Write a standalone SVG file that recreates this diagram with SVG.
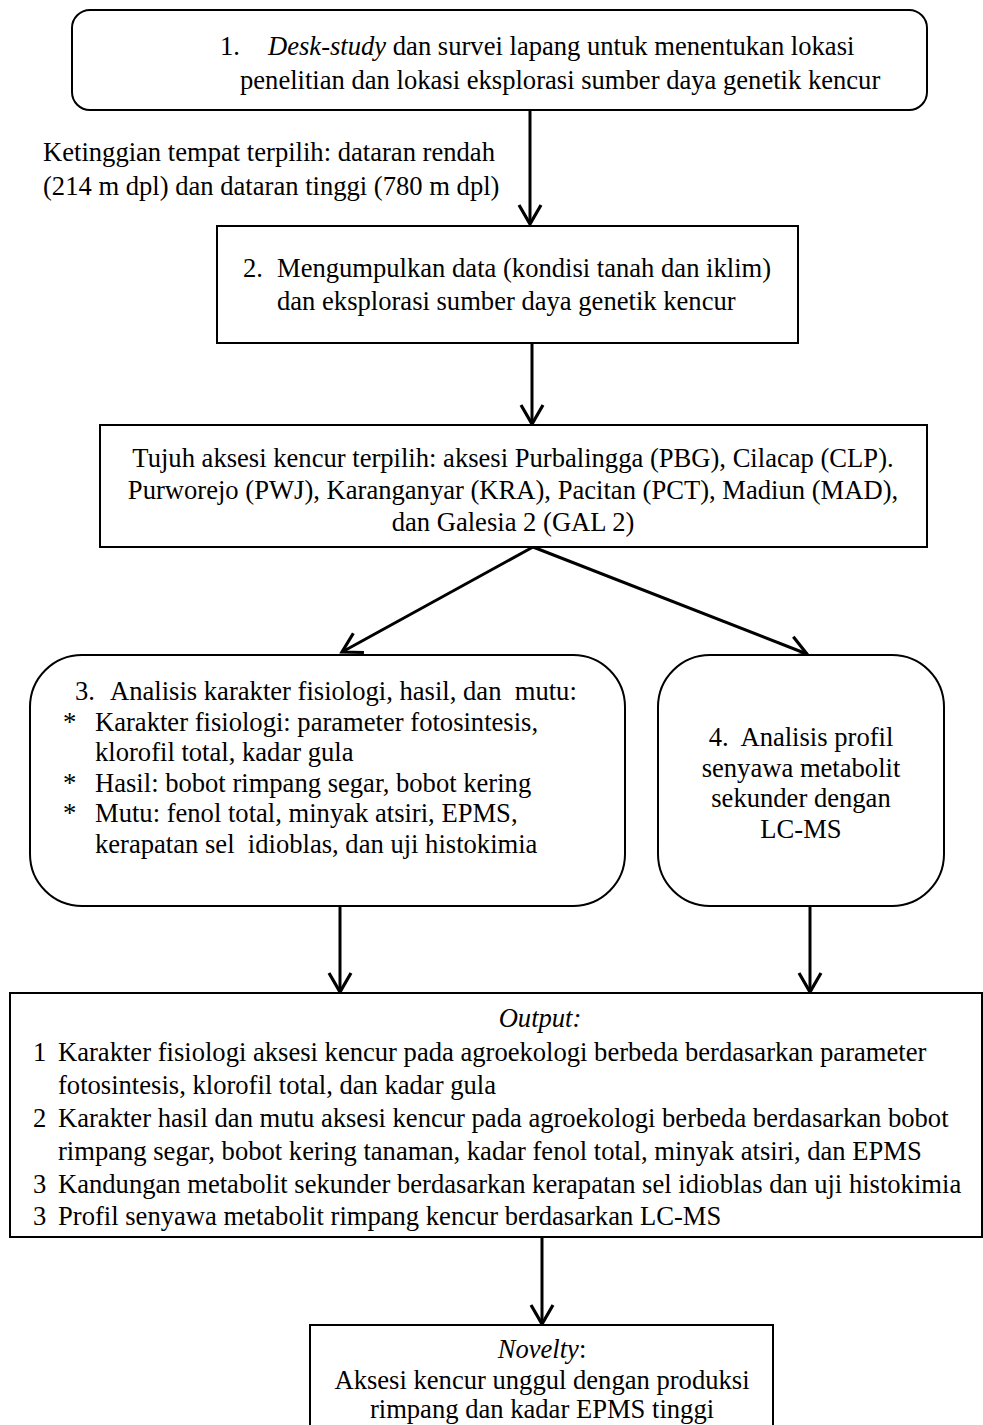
<svg xmlns="http://www.w3.org/2000/svg" width="983" height="1425" viewBox="0 0 983 1425">
<defs>
<marker id="ah" markerUnits="userSpaceOnUse" markerWidth="30" markerHeight="30" viewBox="-24 -15 30 30" refX="0" refY="0" orient="auto">
<path d="M-19,-11 L0,0 L-19,11" fill="none" stroke="#000" stroke-width="3.2" stroke-linejoin="miter"/>
</marker>
<style>
.box{fill:#fff;stroke:#000;stroke-width:2}
.t{font-family:"Liberation Serif","Times New Roman",serif;font-size:26.6px;fill:#000;white-space:pre}
.c{text-anchor:middle}
.i{font-style:italic}
.ln{stroke:#000;stroke-width:3;fill:none;marker-end:url(#ah)}
</style>
</defs>
<rect width="983" height="1425" fill="#fff"/>
<g id="connectors">
<line class="ln" x1="530" y1="110" x2="530" y2="224"/>
<line class="ln" x1="532" y1="343" x2="532" y2="424"/>
<line class="ln" x1="533" y1="547" x2="342" y2="652"/>
<line class="ln" x1="533" y1="547" x2="807" y2="654"/>
<line class="ln" x1="340" y1="906" x2="340" y2="992"/>
<line class="ln" x1="810" y1="906" x2="810" y2="992"/>
<line class="ln" x1="542" y1="1237" x2="542" y2="1324"/>
</g>
<g id="node1">
<rect class="box" x="72" y="10" width="855" height="100" rx="18"/>
<text class="t" y="55"><tspan x="220">1.</tspan><tspan x="268" class="i">Desk-study</tspan><tspan> dan survei lapang untuk menentukan lokasi</tspan></text>
<text class="t" x="240" y="89">penelitian dan lokasi eksplorasi sumber daya genetik kencur</text>
</g>
<g id="label-ketinggian">
<text class="t" x="43" y="161">Ketinggian tempat terpilih: dataran rendah</text>
<text class="t" x="43" y="195">(214 m dpl) dan dataran tinggi (780 m dpl)</text>
</g>
<g id="node2">
<rect class="box" x="217" y="226" width="581" height="117"/>
<text class="t" y="277"><tspan x="243">2.</tspan><tspan x="277">Mengumpulkan data (kondisi tanah dan iklim)</tspan></text>
<text class="t" x="277" y="310">dan eksplorasi sumber daya genetik kencur</text>
</g>
<g id="node-aksesi">
<rect class="box" x="100" y="425" width="827" height="122"/>
<text class="t c" x="513" y="467">Tujuh aksesi kencur terpilih: aksesi Purbalingga (PBG), Cilacap (CLP).</text>
<text class="t c" x="513" y="499">Purworejo (PWJ), Karanganyar (KRA), Pacitan (PCT), Madiun (MAD),</text>
<text class="t c" x="513" y="531">dan Galesia 2 (GAL 2)</text>
</g>
<g id="node3">
<rect class="box" x="30" y="655" width="595" height="251" rx="52"/>
<text class="t" y="700"><tspan x="75">3.</tspan><tspan x="110">Analisis karakter fisiologi, hasil, dan  mutu:</tspan></text>
<text class="t" y="730.5"><tspan x="63">*</tspan><tspan x="95">Karakter fisiologi: parameter fotosintesis,</tspan></text>
<text class="t" x="95" y="761">klorofil total, kadar gula</text>
<text class="t" y="791.5"><tspan x="63">*</tspan><tspan x="95">Hasil: bobot rimpang segar, bobot kering</tspan></text>
<text class="t" y="822"><tspan x="63">*</tspan><tspan x="95">Mutu: fenol total, minyak atsiri, EPMS,</tspan></text>
<text class="t" x="95" y="852.5">kerapatan sel  idioblas, dan uji histokimia</text>
</g>
<g id="node4">
<rect class="box" x="658" y="655" width="286" height="251" rx="52"/>
<text class="t c" x="801" y="746">4.  Analisis profil</text>
<text class="t c" x="801" y="777">senyawa metabolit</text>
<text class="t c" x="801" y="807">sekunder dengan</text>
<text class="t c" x="801" y="838">LC-MS</text>
</g>
<g id="node-output">
<rect class="box" x="10" y="993" width="972" height="244"/>
<text class="t c i" x="540" y="1027">Output:</text>
<text class="t" y="1061"><tspan x="33">1</tspan><tspan x="58">Karakter fisiologi aksesi kencur pada agroekologi berbeda berdasarkan parameter</tspan></text>
<text class="t" x="58" y="1094">fotosintesis, klorofil total, dan kadar gula</text>
<text class="t" y="1127"><tspan x="33">2</tspan><tspan x="58">Karakter hasil dan mutu aksesi kencur pada agroekologi berbeda berdasarkan bobot</tspan></text>
<text class="t" x="58" y="1160">rimpang segar, bobot kering tanaman, kadar fenol total, minyak atsiri, dan EPMS</text>
<text class="t" y="1193"><tspan x="33">3</tspan><tspan x="58">Kandungan metabolit sekunder berdasarkan kerapatan sel idioblas dan uji histokimia</tspan></text>
<text class="t" y="1225"><tspan x="33">3</tspan><tspan x="58">Profil senyawa metabolit rimpang kencur berdasarkan LC-MS</tspan></text>
</g>
<g id="node-novelty">
<rect class="box" x="310" y="1325" width="463" height="110"/>
<text class="t c" x="542" y="1358"><tspan class="i">Novelty</tspan>:</text>
<text class="t c" x="542" y="1389">Aksesi kencur unggul dengan produksi</text>
<text class="t c" x="542" y="1418">rimpang dan kadar EPMS tinggi</text>
</g>
</svg>
